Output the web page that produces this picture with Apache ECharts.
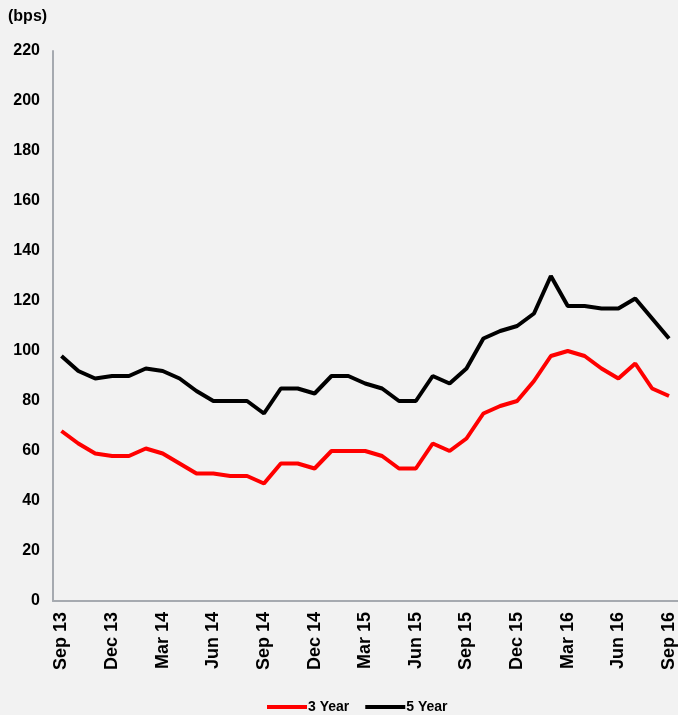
<!DOCTYPE html>
<html>
<head>
<meta charset="utf-8">
<style>
  html, body { margin: 0; padding: 0; background: #f2f2f2; }
  #chart { width: 678px; height: 715px; }
</style>
<script src="https://cdn.jsdelivr.net/npm/echarts@6/dist/echarts.min.js"></script>
</head>
<body>
<div id="chart"></div>
<script>
// Monthly spreads, Sep 2013 to Sep 2016, in basis points
const months = [
  'Sep 13','Oct 13','Nov 13','Dec 13','Jan 14','Feb 14','Mar 14','Apr 14','May 14','Jun 14',
  'Jul 14','Aug 14','Sep 14','Oct 14','Nov 14','Dec 14','Jan 15','Feb 15','Mar 15','Apr 15',
  'May 15','Jun 15','Jul 15','Aug 15','Sep 15','Oct 15','Nov 15','Dec 15','Jan 16','Feb 16',
  'Mar 16','Apr 16','May 16','Jun 16','Jul 16','Aug 16','Sep 16'
];
const threeYear = [
  68, 63, 59, 58, 58, 61, 59, 55, 51, 51,
  50, 50, 47, 55, 55, 53, 60, 60, 60, 58,
  53, 53, 63, 60, 65, 75, 78, 80, 88, 98,
  100, 98, 93, 89, 95, 85, 82
];
const fiveYear = [
  98, 92, 89, 90, 90, 93, 92, 89, 84, 80,
  80, 80, 75, 85, 85, 83, 90, 90, 87, 85,
  80, 80, 90, 87, 93, 105, 108, 110, 115, 130,
  118, 118, 117, 117, 121, 113, 105
];
const yTicks = { min: 0, max: 220, interval: 20 };

const font = "'Liberation Sans', Arial, sans-serif";
const chart = echarts.init(document.getElementById('chart'));
chart.setOption({
  backgroundColor: '#f2f2f2',
  animation: false,
  title: {
    text: '(bps)',
    left: 3,
    top: 4,
    textStyle: { fontFamily: font, fontSize: 16, fontWeight: 'bold', color: '#000' }
  },
  grid: { left: 53, right: 0, top: 51, bottom: 114, containLabel: false },
  legend: {
    top: 695,
    left: 262,
    itemWidth: 40,
    itemHeight: 4,
    itemGap: 16,
    icon: 'rect',
    textStyle: { fontFamily: font, fontSize: 14, fontWeight: 'bold', color: '#000', padding: [0, 0, 0, -4] },
    data: ['3 Year', '5 Year']
  },
  xAxis: {
    type: 'category',
    data: months,
    boundaryGap: true,
    axisLine: { lineStyle: { color: '#a6aab0', width: 2 } },
    axisTick: { show: false },
    axisLabel: {
      interval: 2,
      rotate: 90,
      margin: 11,
      fontFamily: font,
      fontSize: 18,
      fontWeight: 'bold',
      color: '#000'
    },
    splitLine: { show: false }
  },
  yAxis: {
    type: 'value',
    min: yTicks.min,
    max: yTicks.max,
    interval: yTicks.interval,
    axisLine: { show: true, lineStyle: { color: '#a6aab0', width: 2 } },
    axisTick: { show: false },
    axisLabel: {
      margin: 13,
      fontFamily: font,
      fontSize: 16,
      fontWeight: 'bold',
      color: '#000'
    },
    splitLine: { show: false }
  },
  series: [
    {
      name: '3 Year',
      type: 'line',
      data: threeYear,
      symbol: 'none',
      lineStyle: { color: '#ff0000', width: 4 },
      itemStyle: { color: '#ff0000' }
    },
    {
      name: '5 Year',
      type: 'line',
      data: fiveYear,
      symbol: 'none',
      lineStyle: { color: '#000000', width: 4 },
      itemStyle: { color: '#000000' }
    }
  ]
});
</script>
</body>
</html>
